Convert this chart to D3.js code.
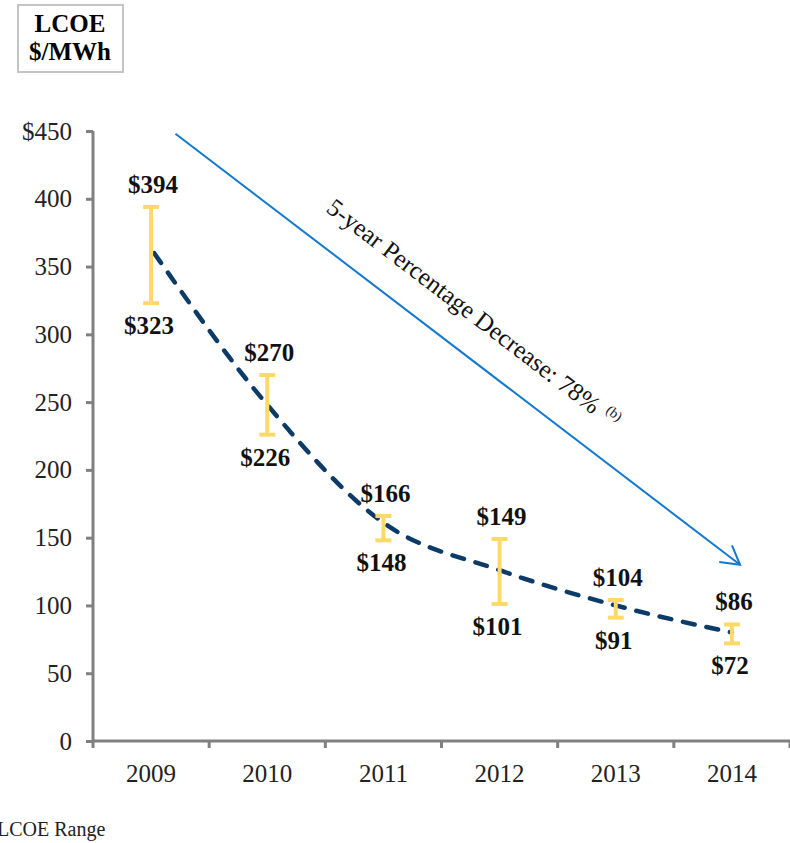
<!DOCTYPE html>
<html>
<head>
<meta charset="utf-8">
<script src="https://cdn.jsdelivr.net/npm/d3@7"></script>
<style>
  body { margin: 0; background: #fff; }
  svg { display: block; }
  text { font-family: "Liberation Serif", "DejaVu Serif", serif; }
</style>
</head>
<body>
<svg id="chart" width="790" height="843"></svg>
<script>
// data
let years = ["2009", "2010", "2011", "2012", "2013", "2014"]
let highs = [394, 270, 166, 149, 104, 86]
let lows = [323, 226, 148, 101, 91, 72]
let trend = [360, 248, 161, 126, 100, 80]
let yTicks = [0, 50, 100, 150, 200, 250, 300, 350, 400, 450]
let yTickLabels = ["0", "50", "100", "150", "200", "250", "300", "350", "400", "$450"]
let arrowFrom = { year: "2009", shift: 0.21, value: 448 }
let arrowTo = { year: "2014", shift: 0.07, value: 130 }
let arrowLabel = "5-year Percentage Decrease: 78%"
let arrowNote = "(b)"
let legendLabel = "LCOE Range"

let svg = d3.select('#chart')

let x = d3.scaleBand().domain(years).range([93, 790]).padding(0)
let y = d3.scaleLinear().domain([0, 450]).range([741, 131])
let cx = (yr) => x(yr) + x.bandwidth() / 2

// unit box top left
svg.append('rect')
    .attr('x', 18).attr('y', 5)
    .attr('width', 105).attr('height', 67)
    .attr('fill', 'none')
    .attr('stroke', '#c4c4c4')
    .attr('stroke-width', 2)
svg.append('text')
    .attr('x', 70).attr('y', 32)
    .attr('text-anchor', 'middle')
    .attr('font-size', 25).attr('font-weight', 'bold')
    .text('LCOE')
svg.append('text')
    .attr('x', 70).attr('y', 60)
    .attr('text-anchor', 'middle')
    .attr('font-size', 25).attr('font-weight', 'bold')
    .text('$/MWh')

// y axis
let yAxis = svg.append('g')
    .attr('transform', 'translate(93,0)')
    .call(d3.axisLeft(y).tickValues(yTicks)
        .tickFormat((d, i) => yTickLabels[i])
        .tickSize(7).tickPadding(14))
yAxis.select('.domain').attr('stroke', '#808080').attr('stroke-width', 3)
    .attr('d', `M0,${y(450)}V${y(0)}`)
yAxis.selectAll('.tick line').attr('stroke', '#808080').attr('stroke-width', 3)
yAxis.selectAll('.tick text')
    .attr('font-size', 25)
    .attr('fill', '#222')

// x axis, ticks on category edges
let xAxis = svg.append('g')
    .attr('transform', `translate(0,${y(0)})`)
xAxis.append('line')
    .attr('x1', 93).attr('x2', 790)
    .attr('y1', 0).attr('y2', 0)
    .attr('stroke', '#808080').attr('stroke-width', 3)
xAxis.selectAll('.edge')
    .data(years.concat(['end']))
    .enter()
    .append('line')
    .attr('x1', (d, i) => 93 + i * x.bandwidth())
    .attr('x2', (d, i) => 93 + i * x.bandwidth())
    .attr('y1', 0).attr('y2', 7)
    .attr('stroke', '#808080').attr('stroke-width', 3)
xAxis.selectAll('.yr')
    .data(years)
    .enter()
    .append('text')
    .attr('x', (d) => cx(d))
    .attr('y', 41)
    .attr('text-anchor', 'middle')
    .attr('font-size', 25)
    .attr('fill', '#222')
    .text((d) => d)

// trend arrow
let ax1 = x(arrowFrom.year) + x.bandwidth() * (0.5 + arrowFrom.shift)
let ay1 = y(arrowFrom.value)
let ax2 = x(arrowTo.year) + x.bandwidth() * (0.5 + arrowTo.shift)
let ay2 = y(arrowTo.value)
let ang = Math.atan2(ay2 - ay1, ax2 - ax1)
svg.append('line')
    .attr('x1', ax1).attr('y1', ay1)
    .attr('x2', ax2).attr('y2', ay2)
    .attr('stroke', '#1279cf').attr('stroke-width', 2)
let head = 21
let spread = Math.PI / 6
svg.append('path')
    .attr('d', `M${ax2 + head * Math.cos(ang + Math.PI - spread)},${ay2 + head * Math.sin(ang + Math.PI - spread)}` +
        `L${ax2},${ay2}` +
        `L${ax2 + head * Math.cos(ang + Math.PI + spread)},${ay2 + head * Math.sin(ang + Math.PI + spread)}`)
    .attr('fill', 'none')
    .attr('stroke', '#1279cf').attr('stroke-width', 2)

// rotated label over the arrow
let mx = (ax1 + ax2) / 2
let my = (ay1 + ay2) / 2
let off = 40
let lx = mx + off * Math.sin(ang) - 10
let ly = my - off * Math.cos(ang) - 2
let deg = ang * 180 / Math.PI
let lab = svg.append('text')
    .attr('transform', `translate(${lx},${ly}) rotate(${deg})`)
    .attr('text-anchor', 'middle')
    .attr('dominant-baseline', 'middle')
    .attr('font-size', 25)
    .attr('fill', '#111')
lab.append('tspan').text(arrowLabel)
lab.append('tspan')
    .attr('font-size', 14)
    .attr('dx', 8).attr('dy', -7)
    .text(arrowNote)

// dashed trend line
let line = d3.line()
    .x((d, i) => cx(years[i]) + (i === 0 ? 3 : 0))
    .y((d) => y(d))
    .curve(d3.curveMonotoneX)
svg.append('path')
    .datum(trend)
    .attr('d', line)
    .attr('fill', 'none')
    .attr('stroke', '#0b3b66')
    .attr('stroke-width', 4.5)
    .attr('stroke-dasharray', '12,12')
    .attr('stroke-linecap', 'round')

// error bars for the LCOE range
let bars = svg.append('g')
bars.selectAll('.stem')
    .data(years)
    .enter()
    .append('line')
    .attr('x1', (d) => cx(d)).attr('x2', (d) => cx(d))
    .attr('y1', (d, i) => y(highs[i])).attr('y2', (d, i) => y(lows[i]))
    .attr('stroke', '#ffd966').attr('stroke-width', 4)
bars.selectAll('.capT')
    .data(years)
    .enter()
    .append('line')
    .attr('x1', (d) => cx(d) - 8).attr('x2', (d) => cx(d) + 8)
    .attr('y1', (d, i) => y(highs[i])).attr('y2', (d, i) => y(highs[i]))
    .attr('stroke', '#ffd966').attr('stroke-width', 4)
bars.selectAll('.capB')
    .data(years)
    .enter()
    .append('line')
    .attr('x1', (d) => cx(d) - 8).attr('x2', (d) => cx(d) + 8)
    .attr('y1', (d, i) => y(lows[i])).attr('y2', (d, i) => y(lows[i]))
    .attr('stroke', '#ffd966').attr('stroke-width', 4)

// value labels
svg.selectAll('.hiLab')
    .data(years)
    .enter()
    .append('text')
    .attr('x', (d) => cx(d) + 2)
    .attr('y', (d, i) => y(highs[i]) - 14)
    .attr('text-anchor', 'middle')
    .attr('font-size', 25).attr('font-weight', 'bold')
    .attr('fill', '#111')
    .text((d, i) => '$' + highs[i])
svg.selectAll('.loLab')
    .data(years)
    .enter()
    .append('text')
    .attr('x', (d) => cx(d) - 2)
    .attr('y', (d, i) => y(lows[i]) + 31)
    .attr('text-anchor', 'middle')
    .attr('font-size', 25).attr('font-weight', 'bold')
    .attr('fill', '#111')
    .text((d, i) => '$' + lows[i])

// legend (cut off at the left edge, as in the source)
svg.append('text')
    .attr('x', -3).attr('y', 836)
    .attr('font-size', 20)
    .attr('fill', '#222')
    .text(legendLabel)
</script>
</body>
</html>
